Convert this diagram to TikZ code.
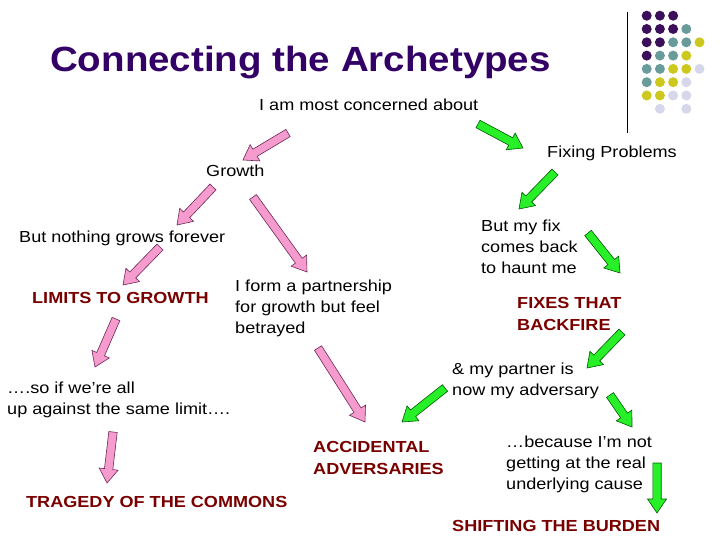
\documentclass[tikz,border=0pt]{standalone}
\usepackage{fontspec}
\setmainfont{Liberation Sans}[FakeStretch=1.13]
\newfontfamily\titlefont{Liberation Sans}[FakeStretch=1.1]
\usetikzlibrary{calc}

\definecolor{titlepurple}{RGB}{51,0,102}
\definecolor{archred}{RGB}{122,0,0}
\definecolor{pinkfill}{RGB}{245,155,205}
\definecolor{pinkline}{RGB}{110,40,90}
\definecolor{greenfill}{RGB}{40,240,40}
\definecolor{greenline}{RGB}{0,90,0}
\definecolor{dotpurple}{RGB}{60,15,90}
\definecolor{dotteal}{RGB}{105,155,155}
\definecolor{dotyellow}{RGB}{205,200,30}
\definecolor{dotlilac}{RGB}{215,215,235}

\tikzset{
  body/.style={anchor=base west, inner sep=0pt, align=left,
    font=\fontsize{16}{21}\selectfont},
  archetype/.style={body, text=archred,
    font=\fontsize{16}{22}\selectfont\bfseries},
  pinkarrow/.style={fill=pinkfill, draw=pinkline, line width=0.6pt},
  greenarrow/.style={fill=greenfill, draw=greenline, line width=0.6pt},
}

% block arrow: style, tail, head
\newcommand{\blockarrow}[3]{%
  \coordinate (hb) at ($(#3)!14pt!(#2)$);
  \draw[#1] ($(#2)!4.2pt!90:(#3)$) -- ($(hb)!4.2pt!90:(#3)$)
    -- ($(hb)!9.5pt!90:(#3)$) -- (#3) -- ($(hb)!9.5pt!-90:(#3)$)
    -- ($(hb)!4.2pt!-90:(#3)$) -- ($(#2)!4.2pt!-90:(#3)$) -- cycle;
}

\begin{document}
\begin{tikzpicture}[x=1pt,y=-1pt]
    \fill[white] (0,0) rectangle (720,540);
    \useasboundingbox (0,0) rectangle (720,540);
    % Corner decoration
    \draw[line width=1pt] (627,12) -- (627,133);
    \foreach \r/\c/\col in {0/0/dotpurple,0/1/dotpurple,0/2/dotpurple,
        1/0/dotpurple,1/1/dotpurple,1/2/dotpurple,1/3/dotteal,
        2/0/dotpurple,2/1/dotpurple,2/2/dotteal,2/3/dotteal,2/4/dotyellow,
        3/0/dotpurple,3/1/dotteal,3/2/dotteal,3/3/dotyellow,
        4/0/dotteal,4/1/dotteal,4/2/dotyellow,4/3/dotyellow,4/4/dotlilac,
        5/0/dotteal,5/1/dotyellow,5/2/dotyellow,5/3/dotlilac,
        6/0/dotyellow,6/1/dotyellow,6/2/dotlilac,6/3/dotlilac,
        7/1/dotlilac,7/3/dotlilac}
        \fill[\col] (646.7+13.2*\c, 15.7+13.3*\r) circle (5);
    % Title
    \node[anchor=base west, inner sep=0pt, text=titlepurple,
        font=\titlefont\fontsize{35}{40}\selectfont\bfseries]
        (title) at (50,72) {Connecting the Archetypes};
    % Texts (multi-line nodes sit on their last line)
    \node[body] (concern) at (259,111) {I am most concerned about};
    \node[body] (growth) at (206,177) {Growth};
    \node[body] (fixing) at (547,158) {Fixing Problems};
    \node[body] (nothing) at (19,243) {But nothing grows forever};
    \node[archetype] (limits) at (32,303) {LIMITS TO GROWTH};
    \node[body] (partner) at (235,333)
        {I form a partnership\\for growth but feel\\betrayed};
    \node[body] (myfix) at (481,273) {But my fix\\comes back\\to haunt me};
    \node[archetype] (fixes) at (517,330) {FIXES THAT\\BACKFIRE};
    \node[body] (mypartner) at (452,395) {\& my partner is\\now my adversary};
    \node[body] (soif) at (7,414) {….so if we’re all\\up against the same limit….};
    \node[archetype] (accidental) at (313,474) {ACCIDENTAL\\ADVERSARIES};
    \node[archetype] (tragedy) at (26,507) {TRAGEDY OF THE COMMONS};
    \node[body] (because) at (506,489)
        {…because I’m not\\getting at the real\\underlying cause};
    \node[archetype] (shifting) at (452,531) {SHIFTING THE BURDEN};
    % Arrow ends
    \coordinate (concern-growth-t) at (288,133);
    \coordinate (concern-growth-h) at (243,160);
    \coordinate (concern-fixing-t) at (478,124);
    \coordinate (concern-fixing-h) at (523,148);
    \coordinate (fixing-myfix-t) at (555,172);
    \coordinate (fixing-myfix-h) at (519,209);
    \coordinate (growth-nothing-t) at (213,187);
    \coordinate (growth-nothing-h) at (177,225);
    \coordinate (growth-partner-t) at (253,197);
    \coordinate (growth-partner-h) at (307,272);
    \coordinate (nothing-limits-t) at (160,247);
    \coordinate (nothing-limits-h) at (123,285);
    \coordinate (limits-soif-t) at (116,319);
    \coordinate (limits-soif-h) at (95,367);
    \coordinate (partner-accidental-t) at (318,348);
    \coordinate (partner-accidental-h) at (365,422);
    \coordinate (soif-tragedy-t) at (113,432);
    \coordinate (soif-tragedy-h) at (107,483);
    \coordinate (myfix-fixes-t) at (588,233);
    \coordinate (myfix-fixes-h) at (620,273);
    \coordinate (fixes-mypartner-t) at (622,332);
    \coordinate (fixes-mypartner-h) at (587,368);
    \coordinate (mypartner-accidental-t) at (445,388);
    \coordinate (mypartner-accidental-h) at (402,422);
    \coordinate (mypartner-because-t) at (610,395);
    \coordinate (mypartner-because-h) at (632,427);
    \coordinate (because-shifting-t) at (657,463);
    \coordinate (because-shifting-h) at (657,513);
    % Growth branch
    \blockarrow{pinkarrow}{concern-growth-t}{concern-growth-h}
    \blockarrow{pinkarrow}{growth-nothing-t}{growth-nothing-h}
    \blockarrow{pinkarrow}{growth-partner-t}{growth-partner-h}
    \blockarrow{pinkarrow}{nothing-limits-t}{nothing-limits-h}
    \blockarrow{pinkarrow}{limits-soif-t}{limits-soif-h}
    \blockarrow{pinkarrow}{soif-tragedy-t}{soif-tragedy-h}
    \blockarrow{pinkarrow}{partner-accidental-t}{partner-accidental-h}
    % Fixing branch
    \blockarrow{greenarrow}{concern-fixing-t}{concern-fixing-h}
    \blockarrow{greenarrow}{fixing-myfix-t}{fixing-myfix-h}
    \blockarrow{greenarrow}{myfix-fixes-t}{myfix-fixes-h}
    \blockarrow{greenarrow}{fixes-mypartner-t}{fixes-mypartner-h}
    \blockarrow{greenarrow}{mypartner-accidental-t}{mypartner-accidental-h}
    \blockarrow{greenarrow}{mypartner-because-t}{mypartner-because-h}
    \blockarrow{greenarrow}{because-shifting-t}{because-shifting-h}
\end{tikzpicture}
\end{document}
